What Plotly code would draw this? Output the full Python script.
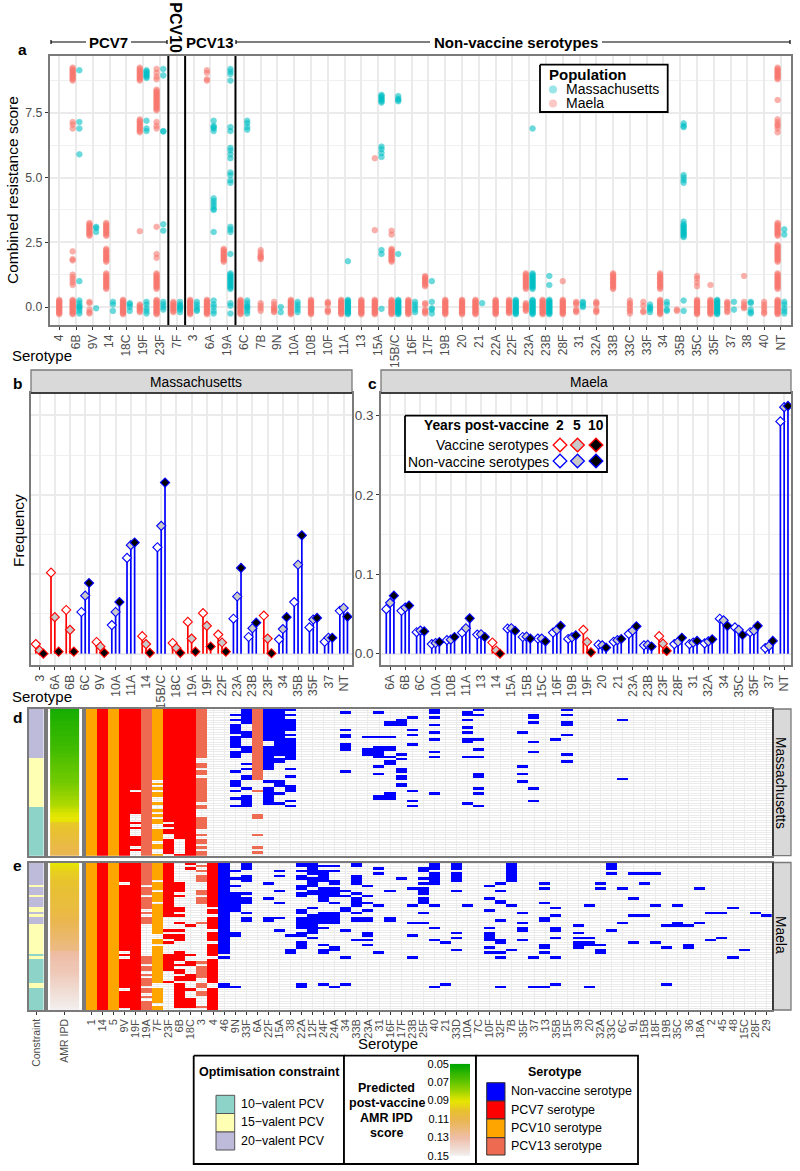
import plotly.graph_objects as go

W, H = 800, 1171
FONT = "Liberation Sans"
TEAL, SALMON = "#00BFC4", "#F8766D"
BORDER = "#7a7a7a"
GRID = "#ebebeb"

# ---------- panel a ----------
a_serotypes = ["4","6B","9V","14","18C","19F","23F","7F","3","6A","19A","6C","7B","9N","10A","10B","10F","11A","13","15A","15B/C","16F","17F","19B","20","21","22A","22F","23A","23B","28F","31","32A","33B","33C","33F","34","35B","35C","35F","37","38","40","NT"]
base = [-.28,-.24,-.2,-.16,-.12,-.08,-.04,0,.04,.08,.12,.16,.2,.24,.28]
b9 = [8.75,8.8,8.85,8.9,8.95,9,9.05,9.1,9.15,9.2,9.25]
b8 = [7.6,7.65,7.7,7.75,7.8,7.85,7.9,7.95,8,8.05,8.1,8.15,8.2,8.25,8.3,8.35,8.4]
b7 = [6.75,6.8,6.85,6.9,6.95,7,7.05,7.1,7.15,7.2,7.25]
b4 = [3.75,3.8,3.9,4,4.1,4.2]
b3 = [2.75,2.8,2.85,2.9,2.95,3,3.05,3.1,3.15,3.2,3.25]
b2 = [1.75,1.8,1.85,1.9,1.95,2,2.05,2.1,2.15,2.2,2.25]
b1 = [.7,.75,.8,.85,.9,.95,1,1.05,1.1,1.15,1.2,1.25,1.3]
maela_scores = [
 base, b9+[7.15,7.05,6.9,2.15,1.85,1.8,1.25,1.15,1.05,.95,.85]+base, b3+[.2,.15,-.1,-.2,-.25], b3+b2+b1, base,
 b9+b7+[2.93,.1,.05,0,-.05,-.1,-.15,-.2], [9.2,9.05,8.9,8.8]+b8+[7.15,7,6.9,3.1,2.05,1.9]+b1+base, [.2,.15,.1,.05,0,-.05,-.1,-.15,-.2], base, [9.15,9.05,8.8,8.75]+base,
 b2, base, [2.2,2.1,2,1.95,1.9,1.85,.15,.05,-.05,-.15], [.2,.1,0,-.05,-.1,-.15,-.2], base,
 base, [.2,.15,.1,-.1,-.15,-.2], base, base, [5.75,2.97]+base,
 [2.95,2.8]+b2+base, base, [1.2,1.15,1.1,1.05,1,.95,.9,.85,.8,.15,.1,-.1,-.15,-.2,-.25], base, base,
 base, base, base[1:], b1+[.15,.1,.05,0,-.05,-.1,-.15], base, [1.0]+base, [.2,.15,.1,-.1,-.15,-.2],
 [.2,.15,.1,-.1,-.15,-.2], b1, [.25,.15,.1,0,-.1,-.15,-.25], [.2,.05,-.15,-.2], b1+base, [-.1,-.15], [1.2,1.1,.95,.8]+base, [.85]+base,
 [.2,.15,.1,0,-.05,-.15,-.2], [1.2,.2,.1,0,-.05], [.2,.1,0,-.1,-.2,-.25],
 b9[1:]+[8.0,7.25,7.15,7.05,7,6.9,6.75]+b3+[2.4,2.35,2.3]+b2+b1+base,
]
mass_scores = [
 [], [9.15,7.15,6.9,5.9,1.0,.25,.15,.05,0,-.05,-.15,-.25], [3.1,3.05,2.9,-.05], [.2,.1,-.15], [.15,.1,0,-.15],
 [9.15,9.1,9.05,9,8.95,8.9,8.85,7.2,6.9,6.8,.2,.1,-.05,-.15,-.25], [9.2,8.95,6.8,6.78,3.2,2.95,.2,.1,0,-.1], [.2,.1,.05,0,-.05,-.1,-.2], [.2,.1,0,-.1,-.15], [7.2,7,6.95,6.9,6.8]+b4+[2.9,.25,.1,0,-.15,-.25],
 [9.2,9.1,9,8.75,6.95,6.8,6.15,6.05,5.9,5.75,5.2,5.1,4.9,4.8,3.1,3,2.9,2.05]+b1+[.15,.05,-.25], [7.2,7.1,6.95,6.85,.25,.15,.05,0,-.05,-.15,-.25], [], [0,-.2], [.2,.1,0,-.1,-.2],
 [], [], [1.77]+base, [], [8.2,8.15,8.1,8.05,8,7.95,7.9,6.2,6.1,5.95,5.8,2.2,2.05,-.07],
 [8.15,8.05,8,7.95,2.05]+base, [.2,.1,0,-.1,-.2], [1.0,.2,-.05,-.1,-.25], [], [],
 [.15], [], base, [6.9]+b1+base, [1.2,.85]+base, [], [.2,.15,.05,0],
 [], [], [], [.1,0,-.05,-.1,-.2], [.2,.1,-.1,-.15], [7.1,7,6.95,5.1,5,4.9,4.8,2.7,2.75,2.8,2.85,2.9,2.95,3,3.05,3.1,3.15,3.2,3.3,.25,-.15], [], base,
 [.2,-.1], [.2,.15,-.1,-.2,-.25], [], [3,2.8,.2,.1,-.05,-.15,-.25],
]

# ---------- panels b, c ----------
b_serotypes = ["3","6A","6B","6C","9V","10A","11A","14","15B/C","18C","19A","19F","22F","23A","23B","23F","34","35B","35F","37","NT"]
b_vaccine = [1,1,1,0,1,0,0,1,0,1,1,1,1,0,0,1,0,0,0,0,0]
b_yr2 = [.012,.102,.055,.0525,.0147,.036,.1206,.022,.134,.0134,.040,.051,.024,.044,.021,.048,.018,.065,.033,.015,.054]
b_yr5 = [.004,.046,.030,.073,.009,.0525,.1366,.012,.161,.007,.019,.035,.014,.072,.032,.019,.031,.112,.043,.020,.0575]
b_yr10 = [0,.0025,.0025,.089,.001,.065,.140,.001,.2155,.001,.0025,.009,.0025,.108,.039,.0005,.046,.149,.045,.020,.0466]
c_serotypes = ["6A","6B","6C","10A","10B","11A","13","14","15A","15B","15C","16F","19B","19F","20","21","23A","23B","23F","28F","31","32A","34","35C","35F","37","NT"]
c_vaccine = [0,0,0,0,0,0,0,1,0,0,0,0,0,1,0,0,0,0,1,0,0,0,0,0,0,0,0]
c_yr2 = [.056,.054,.027,.012,.017,.0265,.024,.014,.0315,.021,.019,.0265,.0185,.030,.0113,.015,.025,.0105,.022,.012,.012,.013,.044,.033,.027,.007,.2925]
c_yr5 = [.064,.058,.029,.0134,.0176,.032,.0244,.004,.032,.0214,.019,.030,.0206,.0147,.0105,.017,.029,.011,.0126,.015,.014,.0155,.042,.030,.029,.0097,.3105]
c_yr10 = [.073,.0605,.028,.0147,.021,.0445,.021,0,.0286,.019,.0155,.035,.023,.0017,.0076,.0185,.0345,.009,.0034,.020,.016,.018,.035,.0235,.035,.016,.312]

# ---------- panels d, e ----------
heat_serotypes = ["1","14","5","9V","19F","19A","7F","23F","6B","18C","3","4","46","9N","33F","6A","22F","15A","38","22A","12F","24F","24A","34","33B","23A","31","16F","17F","23B","25F","40","21","33D","10A","7C","10F","32F","7B","35F","37","13","35B","15F","39","20","32A","33C","6C","9L","15B","18F","19B","35C","36","18A","2","45","48","15C","28F","29"]
# 0 non-vaccine, 1 PCV7, 2 PCV10, 3 PCV13
heat_class = [2,1,2,1,1,3,2,1,1,1,3,1,0,0,0,3,0,0,0]+[0]*43
d_rows = ["0-59","0-59","0-59","0-59","0-32,34-42,46,48,52-55,57","0-59",
 "0-28,30,32,34,35,38,41,43,45,46,49-53,55,56,59","0-45,47,49,50,53-58","0-52,59","0-59",
 "0-19,22,23,25,26,28-37,39,40,44-48,51,53,54,56,58,59","","",
 "2,4,6-9,11-15,17-19,25,29-31,33,36,39","0-5,9-11,15-17,22,24,27,28,32,35-39","0-28,33,43,44,51,56,58",
 "0-12,15-24,29,32-38","0-18,20,21,29-31,34,38","0,2,4-8,10,12-20,24,27,31-33,37,39","","","",
 "","1,8,10,11,14-16,25","","11,16-18","1,11,15-19,23,26,35,36","5,6,11,15,16,19,21,22,34-36",
 "4-6,18,20,24,25,27,28,30,31","3,8,10,14,33,37,39","","0,1,3,6,9,12,17,19,34","","","1,2,4,7,9,12,13,19,38",
 "0,2,12,16,19,26,27,32,34,39","","","","9,23,26,29","2,3,5,13,17,32,37","","12","0,2,5,6,10,18,21","","","","","4,28"]+[""]*13
e_rows = ["0-59","0-59","0-59","0-7,9-35,37,39-50,52-58","0-59",
 "0-8,10-12,14-18,20,22-24,38-40,42,43,45,47-49,51,52,54,56-59",
 "0-6,8-10,12-15,17-28,31,32,34-48,51-56,58,59","0-21,27,29,30,32,37-43,48","8-11,13,18,19,21,24,27,29-31,36-39,41,43,44,46,47,49-52,53-55,56-58",
 "0,2,25,37,40,41,45-47,51,55-58","1,3,5-7,11,12,14-16,24,40,42-46,49,50,52,53,58",
 "0-17,19,20,22-26,28-31,33-37,39-48,51-59","0-36,38,49,50","3,6,9,12-19,28,29,50","0-2,5-7,12,14-16,20,22,23","",
 "8,14,22,23","3,5,11,16,22,27","29,35,36","0,1,3,5,6,9,10,12,13,19,20,22-26,28,29,32-34,49,50",
 "0-4,6-9,11,12,18,21-28,30","1,3-7,10-15,20-24,26,33,35,36,49","1,3,7,8,10-13,16,20-24,34,35,50","11,13,18,19,27,38,49",
 "0,1,5-8,12,14-17,20,22,23,31","9,13,16,19,22,23,28,29,31,33","2,4,17,36","11,22,23","6","10,17,24,29,38",
 "2,3,6,8,10-12,14-16,20,24","0-2,4-8,17,26,31,50","32,49","0-2,4-7,11,28,30,35","17","",
 "9,14,19,26,28-31,34,36","8,11,15,16,23,31,32,36,38,50","0-7,17,35","20,24,26,27,31","38,50",
 "8,10,16,22,23,33,34,36,50","18,21,26,27,30,38,49","","25,28,30,32-34","17,30,32,33,50","8,10,33,35,36","0-2,4,27",
 "10,24","4,14,21,32","4,8,21","4,17,32","25,34,49","17,24,25","25,33,34","10,24","20,31","20,30","18,38","35","20","21"]
d_constraint = [20]*20+[15]*20+[10]*20
e_constraint = [20]*9+[15]+[20]*3+[15]+[20]*4+[15]*2+[20]+[15]+[20]*3+[15]*12+[10]+[15]+[10]*10+[15]*2+[10]*9
d_amr = [.054,.055,.056,.056,.057,.058,.058,.059,.059,.060,.060,.061,.061,.062,.062,.063,.063,.064,.065,.066,
 .067,.067,.068,.069,.069,.070,.071,.071,.072,.072,.073,.074,.075,.076,.077,.078,.079,.080,.081,.082,
 .084,.086,.088,.089,.090,.091,.098,.099,.100,.101,.102,.103,.104,.105,.106,.107,.108,.109,.110,.111]
e_amr = [.090,.092,.094,.096,.097,.098,.099,.100,.100,.101,.102,.102,.103,.103,.104,.104,.105,.105,.106,.106,
 .107,.108,.109,.110,.111,.112,.113,.114,.115,.116,.117,.118,.119,.120,.121,.122,.128,.129,.130,.131,
 .132,.132,.133,.133,.134,.135,.136,.137,.138,.139,.140,.141,.142,.143,.144,.145,.146,.147,.148,.149]
bar_values = [.05,.055,.06,.065,.07,.075,.08,.085,.09,.095,.10,.105,.11,.115,.12,.125,.13,.135,.14,.145,.15]

HEAT = ["#0000ff", "#ff0000", "#ffa500", "#ee6a50"]
CONS = {10: "#8dd3c7", 15: "#ffffb3", 20: "#bebada"}
TERRAIN = [[0,"#00A600"],[.2,"#63C600"],[.4,"#E6E600"],[.5,"#E8C32E"],[.6,"#EAB64E"],[.8,"#EEBEA9"],[1,"#F2F2F2"]]

def xd(l, r): return [l/W, r/W]
def yd(t, b): return [1-b/H, 1-t/H]
def px(x): return x/W
def py(y): return 1-y/H

fig = go.Figure()
AX = {}
def axes(n, xdom, ydom, xr, yr, xextra=None, yextra=None):
    common = dict(showline=True, mirror=True, linecolor=BORDER, linewidth=1.5, zeroline=False, automargin=False,
                  showgrid=True, gridcolor=GRID, ticks="", showticklabels=False)
    x = dict(common, domain=xd(*xdom), range=xr, anchor=f"y{n}", tickmode="array", tickfont=dict(family=FONT, size=12, color="#4d4d4d"))
    y = dict(common, domain=yd(*ydom), range=yr, anchor=f"x{n}", tickfont=dict(family=FONT, size=12.3, color="#4d4d4d"))
    x.update(xextra or {}); y.update(yextra or {})
    AX[f"xaxis{n}"] = x; AX[f"yaxis{n}"] = y

TICK = dict(ticks="outside", ticklen=3, tickcolor="#333333", tickwidth=1, showticklabels=True, tickangle=-90)

# panel a
axes(1, (49.5,790.7), (56,325), [-.58,43.58], [-.695,9.7],
     dict(tickvals=list(range(44)), ticktext=a_serotypes, **TICK, gridwidth=1.5),
     dict(tickmode="array", tickvals=[0,2.5,5,7.5], ticktext=["0.0","2.5","5.0","7.5"], ticks="outside", ticklen=3,
          tickcolor="#333333", showticklabels=True, gridwidth=1.5,
          minor=dict(tickvals=[1.25,3.75,6.25,8.75], showgrid=True, gridcolor="#f0f0f0", gridwidth=1, ticks="")))
for name, scores, color, off in (("Maela", maela_scores, SALMON, -.2), ("Massachusetts", mass_scores, TEAL, .2)):
    xs, ys = [], []
    for i, vals in enumerate(scores):
        other = mass_scores[i] if name == "Maela" else maela_scores[i]
        shift = off if other else 0
        for v in vals:
            xs.append(i+shift); ys.append(v)
    fig.add_trace(go.Scatter(x=xs, y=ys, mode="markers", name=name, showlegend=False,
                             marker=dict(size=5.6, color=color, opacity=.58, line=dict(width=.8, color=color)), xaxis="x", yaxis="y"))

# panels b, c
def lollipop(n, labels, vac, y2, y5, y10):
    xref, yref = f"x{n}", f"y{n}"
    for cls, color in ((1,"#ff0000"),(0,"#0000ff")):
        sx, sy = [], []
        for i, flag in enumerate(vac):
            if flag != cls: continue
            for off, vals in ((-.25,y2),(0,y5),(.25,y10)):
                sx += [i+off, i+off, None]; sy += [0, vals[i], None]
        if sx:
            fig.add_trace(go.Scatter(x=sx, y=sy, mode="lines", line=dict(color=color, width=1.7), showlegend=False, xaxis=xref, yaxis=yref))
    for cls, color in ((1,"#ff0000"),(0,"#0000ff")):
        for off, vals, fill in ((-.25,y2,"#ffffff"),(0,y5,"#c8c8c8"),(.25,y10,"#000000")):
            idx = [i for i, flag in enumerate(vac) if flag == cls]
            if idx:
                fig.add_trace(go.Scatter(x=[i+off for i in idx], y=[vals[i] for i in idx], mode="markers", showlegend=False,
                                         marker=dict(symbol="diamond", size=7, color=fill, line=dict(color=color, width=1.1)), xaxis=xref, yaxis=yref))
GY = dict(tickmode="array", tickvals=[0,.1,.2,.3], gridwidth=1.5,
          minor=dict(tickvals=[.05,.15,.25], showgrid=True, gridcolor="#f0f0f0", gridwidth=1, ticks=""))
XF = dict(tickfont=dict(family=FONT, size=12.5, color="#4d4d4d"))
axes(2, (31,352), (393,665), [-.566,20.55], [-.0143,.3283],
     dict(tickvals=list(range(21)), ticktext=b_serotypes, **TICK, gridwidth=1.5, **XF), GY)
axes(3, (381,791), (393,665), [-.6,26.45], [-.0143,.3283],
     dict(tickvals=list(range(27)), ticktext=c_serotypes, **TICK, gridwidth=1.5, **XF),
     dict(GY, ticktext=["0.0","0.1","0.2","0.3"], ticks="outside", ticklen=3, tickcolor="#333333", showticklabels=True,
          tickfont=dict(family=FONT, size=13.5, color="#4d4d4d")))
lollipop(2, b_serotypes, b_vaccine, b_yr2, b_yr5, b_yr10)
lollipop(3, c_serotypes, c_vaccine, c_yr2, c_yr5, c_yr10)

# panels d, e
def parse(s):
    out = []
    for part in s.split(","):
        if not part: continue
        if "-" in part:
            a, b = part.split("-"); out += list(range(int(a), int(b)+1))
        else:
            out.append(int(part))
    return out

def heat_panel(n0, top, bottom, rows, constraint, amr, label_axis):
    yr = [59.5,-.5]
    ygrid = dict(tickmode="array", tickvals=list(range(60)), gridwidth=1.3)
    SF = dict(tickfont=dict(family=FONT, size=10.5, color="#4d4d4d"))
    xe = dict(tickvals=[0], ticktext=["Constraint"], **TICK, **SF) if label_axis else dict(tickvals=[0])
    axes(n0, (28.7,43.7), (top,bottom), [-.5,.5], yr, dict(xe, showgrid=False), dict(showgrid=False))
    cmap = {20:0, 15:1, 10:2}
    fig.add_trace(go.Heatmap(z=[[cmap[c]] for c in constraint], x=[0], y=list(range(60)), zmin=-.5, zmax=2.5, showscale=False, hoverinfo="skip",
                             colorscale=[[0,CONS[20]],[1/3,CONS[20]],[1/3,CONS[15]],[2/3,CONS[15]],[2/3,CONS[10]],[1,CONS[10]]],
                             xaxis=f"x{n0}", yaxis=f"y{n0}"))
    xe = dict(tickvals=[0], ticktext=["AMR IPD"], **TICK, **SF) if label_axis else dict(tickvals=[0])
    axes(n0+1, (47.5,82), (top,bottom), [-.59,.59], yr, dict(xe, showgrid=False), dict(showgrid=False))
    fig.add_trace(go.Heatmap(z=[[v] for v in amr], x=[0], y=list(range(60)), zmin=.05, zmax=.15, colorscale=TERRAIN, showscale=False, hoverinfo="skip",
                             xaxis=f"x{n0+1}", yaxis=f"y{n0+1}"))
    xe = dict(tickvals=list(range(62)), ticktext=heat_serotypes, gridwidth=1, tickfont=dict(family=FONT, size=11, color="#4d4d4d"))
    if label_axis: xe.update(TICK)
    axes(n0+2, (85.7,772), (top,bottom), [-.5,61.5], yr, xe, ygrid)
    z = [[None]*62 for _ in range(60)]
    for c, s in enumerate(rows):
        for r in parse(s):
            z[r][c] = heat_class[c]
    fig.add_trace(go.Heatmap(z=z, x=list(range(62)), y=list(range(60)), zmin=-.5, zmax=3.5, showscale=False, hoverinfo="skip", hoverongaps=False,
                             colorscale=[[0,HEAT[0]],[.25,HEAT[0]],[.25,HEAT[1]],[.5,HEAT[1]],[.5,HEAT[2]],[.75,HEAT[2]],[.75,HEAT[3]],[1,HEAT[3]]],
                             xaxis=f"x{n0+2}", yaxis=f"y{n0+2}"))
heat_panel(4, 709, 855.7, d_rows, d_constraint, d_amr, False)
heat_panel(7, 862.5, 1010, e_rows, e_constraint, e_amr, True)

# overlay in page pixels, for legend furniture
AX["xaxis10"] = dict(domain=[0,1], range=[0,W], visible=False, anchor="y10", fixedrange=True, automargin=False)
AX["yaxis10"] = dict(domain=[0,1], range=[H,0], visible=False, anchor="x10", fixedrange=True, automargin=False)
def box(x0, y0, x1, y1, fill="#ffffff", line="#000000", width=1.8):
    fig.add_trace(go.Scatter(x=[x0,x1,x1,x0,x0], y=[y0,y0,y1,y1,y0], mode="lines", fill="toself", fillcolor=fill,
                             line=dict(color=line, width=width), showlegend=False, hoverinfo="skip", xaxis="x10", yaxis="y10"))
def key(x, y, **marker):
    fig.add_trace(go.Scatter(x=[x], y=[y], mode="markers", marker=marker, showlegend=False, hoverinfo="skip", xaxis="x10", yaxis="y10"))

notes = []
def text(x, y, s, size=12, bold=False, anchor="center", angle=0, color="#000000"):
    notes.append(dict(x=px(x), y=py(y), xref="paper", yref="paper", text=f"<b>{s}</b>" if bold else s, showarrow=False, xanchor=anchor, yanchor="middle",
                      textangle=angle, font=dict(family=FONT, size=size, color=color), borderpad=0, borderwidth=0))

# population legend
box(540,64.7,667.7,112)
key(553,89.5,size=8,color=TEAL,opacity=.4)
key(553,103.5,size=8,color=SALMON,opacity=.4)
text(549,74,"Population",15,True,"left")
text(566,89.3,"Massachusetts",14,False,"left")
text(566,103.3,"Maela",14,False,"left")

# years legend
box(405,415.7,607,472)
text(548.7,426,"Years post-vaccine",13.8,True,"right")
text(559.5,426,"2",13.8,True); text(577,426,"5",13.8,True); text(596,426,"10",13.8,True)
text(548.7,445,"Vaccine serotypes",13.9,False,"right")
text(548.7,461.5,"Non-vaccine serotypes",13.9,False,"right")
for yy, col in ((445,"#ff0000"),(461,"#0000ff")):
    for xx, fill in ((560,"#ffffff"),(577.5,"#c8c8c8"),(596,"#000000")):
        key(xx,yy,symbol="diamond",size=10.5,color=fill,line=dict(color=col,width=1.3))

# bottom legend
box(193.7,1055.7,344,1164); box(344,1055.7,476,1164); box(476,1055.7,638,1164)
text(269,1072,"Optimisation constraint",12.5,True)
for (yy0,yy1), c, lab in (((1095.3,1113.5),10,"10−valent PCV"),((1113.5,1132),15,"15−valent PCV"),((1132,1150),20,"20−valent PCV")):
    box(216,yy0,234.7,yy1,fill=CONS[c],line="#555555",width=1)
    text(241,(yy0+yy1)/2-.5,lab,12.4,False,"left")
for yy, s in ((1087.7,"Predicted"),(1102.7,"post-vaccine"),(1117.7,"AMR IPD"),(1132.7,"score")):
    text(386.5,yy,s,12.5,True)
text(555,1072,"Serotype",12.5,True)
for (yy0,yy1), col, lab in (((1082.7,1101),HEAT[0],"Non-vaccine serotype"),((1101,1119),HEAT[1],"PCV7 serotype"),((1119,1137.7),HEAT[2],"PCV10 serotype"),((1137.7,1155),HEAT[3],"PCV13 serotype")):
    box(486.7,yy0,505,yy1,fill=col,line="#333333",width=1)
    text(511,(yy0+yy1)/2-.5,lab,12.5,False,"left")

# colour bar, after the legend box so that it sits on top of it
axes(11, (450,470), (1063.7,1156), [-.5,.5], [.15,.05], dict(showgrid=False, showline=False, mirror=False, tickvals=[]),
     dict(showgrid=False, showline=False, mirror=False, tickmode="array", tickvals=[.05,.07,.09,.11,.13,.15],
          ticktext=["0.05","0.07","0.09","0.11","0.13","0.15"], showticklabels=True,
          tickfont=dict(family=FONT, size=11, color="#000000")))
fig.add_trace(go.Heatmap(z=[[v] for v in bar_values], x=[0], y=bar_values, zmin=.05, zmax=.15, colorscale=TERRAIN, showscale=False, hoverinfo="skip",
                         zsmooth="best", xaxis="x11", yaxis="y11"))

# titles
text(22,50,"a",15.5,True); text(17,383,"b",15.5,True); text(372,383,"c",15.5,True); text(17,717,"d",15.5,True); text(17,865,"e",15.5,True)
text(12,190,"Combined resistance score",15.5,False,"center",-90)
text(42,355,"Serotype",15); text(42,696,"Serotype",15); text(388,1043,"Serotype",15)
text(18,531,"Frequency",15.4,False,"center",-90)
text(196,382,"Massachusetts",13.8); text(589,382,"Maela",13.8)
text(781,783,"Massachusetts",13.8,False,"center",90); text(781,935,"Maela",13.8,False,"center",90)
text(108,42,"PCV7",15,True); text(175.7,28,"PCV10",16,True,"center",90); text(210,42,"PCV13",15,True); text(515.7,42,"Non-vaccine serotypes",15,True)

shapes = []
def seg(x0,y0,x1,y1,color="#000000",width=1.2):
    shapes.append(dict(type="line",xref="paper",yref="paper",x0=px(x0),y0=py(y0),x1=px(x1),y1=py(y1),line=dict(color=color,width=width)))
def rect(x0,y0,x1,y1,fill,line=BORDER,width=1.3):
    shapes.append(dict(type="rect",xref="paper",yref="paper",x0=px(x0),y0=py(y0),x1=px(x1),y1=py(y1),fillcolor=fill,line=dict(color=line,width=width)))
for a,b in ((51,86),(131,167),(236,430),(602,790)):
    seg(a,42,b,42)
seg(51,40,51,44); seg(167,40,167,44); seg(790,40,790,44); seg(236,40,236,44)
for v in (6.5,7.5,10.5):
    shapes.append(dict(type="line",xref="x",yref="paper",x0=v,x1=v,y0=py(325),y1=py(56),line=dict(color="#000000",width=2)))
rect(31,370,352,393,"#d9d9d9"); seg(31,393,352,393,"#222222",1.5)
rect(381,370,791,393,"#d9d9d9"); seg(381,393,791,393,"#222222",1.5)
rect(773,709,791,855.7,"#d9d9d9"); seg(773,709,773,855.7,"#222222",1.5)
rect(773,862.5,791,1010,"#d9d9d9"); seg(773,862.5,773,1010,"#222222",1.5)

fig.update_layout(width=W, height=H, margin=dict(l=0,r=0,t=0,b=0,pad=0,autoexpand=False), paper_bgcolor="white", plot_bgcolor="rgba(0,0,0,0)",
                  showlegend=False, font=dict(family=FONT), annotations=notes, shapes=shapes, **AX)
fig.write_html("out.html", config=dict(displayModeBar=False), post_script="document.body.style.margin='0';")
